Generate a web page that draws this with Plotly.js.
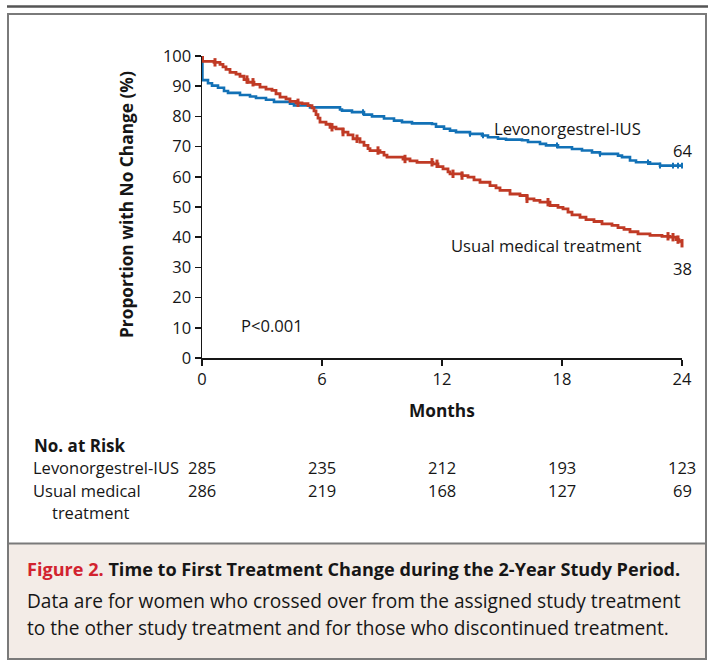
<!DOCTYPE html>
<html><head><meta charset="utf-8">
<script src="https://cdn.plot.ly/plotly-3.0.1.min.js"></script>
<style>html,body{margin:0;padding:0;background:#fff;}#chart{width:708px;height:661px;}</style>
</head><body><div id="chart"></div>
<script>
// ---- Data ----
const lngMonths = [0,0.02,0.3,0.5,0.8,1.1,1.3,1.9,2.4,2.7,3.2,3.6,4.4,4.6,5.4,6.9,7.0,7.5,8.1,8.5,9.1,9.6,10.0,10.5,11.5,11.7,12.1,12.4,12.7,13.4,14.0,14.3,14.8,15.2,16.0,16.3,16.9,17.2,17.8,18.5,19.0,19.5,19.9,20.8,21.0,21.4,21.7,22.4,22.9,24.0];
const lngSurv   = [100,92.0,91.0,90.2,89.5,88.4,87.8,87.1,86.6,86.1,85.5,84.8,84.2,83.6,83.0,82.3,81.9,81.4,80.6,80.0,79.3,78.6,78.1,77.7,77.5,76.6,75.9,75.3,74.8,74.2,73.7,73.1,72.6,72.3,72.1,71.5,70.9,70.4,69.8,69.2,68.7,68.1,67.6,67.0,66.5,65.4,64.8,64.3,63.7,63.7];
const umtMonths = [0,0.03,0.6,0.9,1.05,1.2,1.4,1.7,1.9,2.1,2.3,2.6,2.9,3.2,3.5,3.7,3.9,4.2,4.4,4.7,5.0,5.3,5.5,5.6,5.7,5.8,5.9,6.2,6.4,6.7,7.05,7.3,7.55,7.9,8.1,8.3,8.4,8.9,9.1,9.25,10.05,10.4,10.75,11.55,11.8,12.05,12.3,12.4,13.0,13.3,13.6,13.9,14.4,14.7,14.9,15.4,15.9,16.25,16.6,16.9,17.4,17.8,18.05,18.3,18.5,18.9,19.2,19.6,20.0,20.5,20.8,21.1,21.4,21.8,22.4,23.0,23.4,23.7,23.85,24.0];
const umtSurv   = [100,98.2,97.9,97.2,96.4,95.6,94.6,94.0,93.3,92.2,91.3,90.6,89.7,89.0,88.6,87.5,86.4,85.8,85.0,84.5,84.2,83.6,82.8,81.8,80.6,79.4,78.1,77.4,76.4,75.9,74.8,73.9,72.6,71.5,70.4,69.3,68.7,68.1,67.2,66.5,65.9,65.3,64.8,64.3,63.4,62.6,61.6,61.0,60.4,59.9,59.0,58.2,57.1,56.3,55.5,54.3,53.8,52.7,52.2,51.6,50.5,49.9,49.4,48.3,47.4,46.6,45.8,45.2,44.4,43.9,43.2,42.6,41.8,41.1,40.6,40.3,40.0,39.2,38.6,38.0];
const lngCensor = [8.05,13.4,14.05,17.75,19.9,22.3,22.9,23.55,23.8,24.0];
const umtCensor = [0.65,2.25,2.55,4.8,6.5,7.05,7.75,8.8,10.15,11.5,11.75,12.55,13.0,16.25,17.3,23.3,23.55,23.8,24.0];
const riskMonths = [0,6,12,18,24];
const riskLng = [285,235,212,193,123];
const riskUmt = [286,219,168,127,69];
const xTicks = [0,6,12,18,24];
const yTicks = [0,10,20,30,40,50,60,70,80,90,100];
const seriesNames = ['Levonorgestrel-IUS','Usual medical treatment'];
const endLabels = [64,38];

// ---- helpers ----
function stepAt(ts, ss, t){ let v = ss[0]; for (let i=0;i<ts.length;i++){ if (ts[i]<=t) v = ss[i]; } return v; }
const BLUE = '#1271b6', RED = '#c03a25';
const FONT = '"Open Sans", Lato, sans-serif';
const TXT = '#161616';
const L=202, R=26, T=56, B=303, W=708, H=661;
const pw = W-L-R, ph = H-T-B;
const px = v => (v-L)/pw;         // pixel x -> paper
const py = v => (H-B-v)/ph;       // pixel y -> paper

const traces = [
  {x: lngMonths, y: lngSurv, mode:'lines', line:{shape:'hv', color:BLUE, width:2.6}, name:seriesNames[0], hoverinfo:'skip'},
  {x: umtMonths, y: umtSurv, mode:'lines', line:{shape:'hv', color:RED, width:2.8}, name:seriesNames[1], hoverinfo:'skip'},
  {x: lngCensor, y: lngCensor.map(t=>stepAt(lngMonths,lngSurv,t)), mode:'markers',
   marker:{symbol:'line-ns', size:4, color:BLUE, line:{color:BLUE, width:2}}, hoverinfo:'skip', cliponaxis:false},
  {x: umtCensor, y: umtCensor.map(t=>stepAt(umtMonths,umtSurv,t)), mode:'markers',
   marker:{symbol:'line-ns', size:6, color:RED, line:{color:RED, width:3}}, hoverinfo:'skip', cliponaxis:false}
];

const ann = [];
function A(o){ ann.push(Object.assign({showarrow:false, xanchor:'center', yanchor:'middle'}, o)); }
// y-axis title
A({xref:'paper', yref:'paper', x:px(126), y:py(205), text:'<b>Proportion with No Change (%)</b>', textangle:-90, font:{family:FONT, size:17.3, color:TXT}});
// x-axis title
A({xref:'paper', yref:'paper', x:0.5, y:py(410), text:'<b>Months</b>', font:{family:FONT, size:17.3, color:TXT}});
// in-plot labels
A({xref:'paper', yref:'paper', x:px(567), y:py(128), text:seriesNames[0], font:{family:FONT, size:16.6, color:TXT}});
A({xref:'paper', yref:'paper', x:px(546), y:py(245), text:seriesNames[1], font:{family:FONT, size:16.6, color:TXT}});
A({xref:'x', yref:'paper', x:24, y:py(150), text:String(endLabels[0]), font:{family:FONT, size:16.6, color:TXT}});
A({xref:'x', yref:'paper', x:24, y:py(268), text:String(endLabels[1]), font:{family:FONT, size:16.6, color:TXT}});
A({xref:'paper', yref:'paper', x:px(272), y:py(325), text:'P&lt;0.001', font:{family:FONT, size:16.6, color:TXT}});
// No. at risk
A({xref:'paper', yref:'paper', x:px(32), y:py(445), xanchor:'left', text:'<b>No. at Risk</b>', font:{family:FONT, size:17, color:TXT}});
A({xref:'paper', yref:'paper', x:px(31), y:py(468), xanchor:'left', text:seriesNames[0], font:{family:FONT, size:16.5, color:TXT}});
A({xref:'paper', yref:'paper', x:px(31), y:py(490), xanchor:'left', text:'Usual medical', font:{family:FONT, size:16.5, color:TXT}});
A({xref:'paper', yref:'paper', x:px(50), y:py(512), xanchor:'left', text:'treatment', font:{family:FONT, size:16.5, color:TXT}});
riskMonths.forEach((m,i)=>{
  A({xref:'x', yref:'paper', x:m, y:py(468), text:String(riskLng[i]), font:{family:FONT, size:16.5, color:TXT}});
  A({xref:'x', yref:'paper', x:m, y:py(490), text:String(riskUmt[i]), font:{family:FONT, size:16.5, color:TXT}});
});
// caption
A({xref:'paper', yref:'paper', x:px(25), y:py(569), xanchor:'left', text:'<b><span style="color:#d2232f">Figure 2.</span> Time to First Treatment Change during the 2-Year Study Period.</b>', font:{family:FONT, size:18.1, color:TXT}});
A({xref:'paper', yref:'paper', x:px(25), y:py(601), xanchor:'left', text:'Data are for women who crossed over from the assigned study treatment', font:{family:FONT, size:19.1, color:TXT}});
A({xref:'paper', yref:'paper', x:px(25), y:py(628), xanchor:'left', text:'to the other study treatment and for those who discontinued treatment.', font:{family:FONT, size:19.1, color:TXT}});

const shapes = [
  {type:'rect', xref:'paper', yref:'paper', x0:px(8), x1:px(706), y0:py(543), y1:py(659), fillcolor:'#f3ece7', line:{width:0}, layer:'below'},
  {type:'line', xref:'paper', yref:'paper', x0:px(8), x1:px(706), y0:py(543.5), y1:py(543.5), line:{color:'#7a7a7a', width:2}},
  {type:'rect', xref:'paper', yref:'paper', x0:px(8), x1:px(706), y0:py(14), y1:py(659), line:{color:'#7a7a7a', width:2}},
  {type:'line', xref:'paper', yref:'paper', x0:px(7), x1:px(708), y0:py(6.5), y1:py(6.5), line:{color:'#555', width:2.5}}
];

const axisCommon = {ticks:'outside', ticklen:6, tickwidth:1.5, tickcolor:TXT, showline:true, linecolor:TXT, linewidth:1.5,
  showgrid:false, zeroline:false, fixedrange:true, tickfont:{family:FONT, size:16.5, color:TXT}};
const layout = {
  width:W, height:H, margin:{l:L, r:R, t:T, b:B, pad:0},
  paper_bgcolor:'#fff', plot_bgcolor:'rgba(0,0,0,0)', showlegend:false,
  font:{family:FONT, size:15, color:TXT},
  xaxis:Object.assign({range:[0,24], tickvals:xTicks, ticktext:xTicks.map(String)}, axisCommon),
  yaxis:Object.assign({range:[0,100], tickvals:yTicks, ticktext:yTicks.map(String)}, axisCommon),
  annotations:ann, shapes:shapes
};
Plotly.newPlot('chart', traces, layout, {staticPlot:true, displayModeBar:false});
</script></body></html>
